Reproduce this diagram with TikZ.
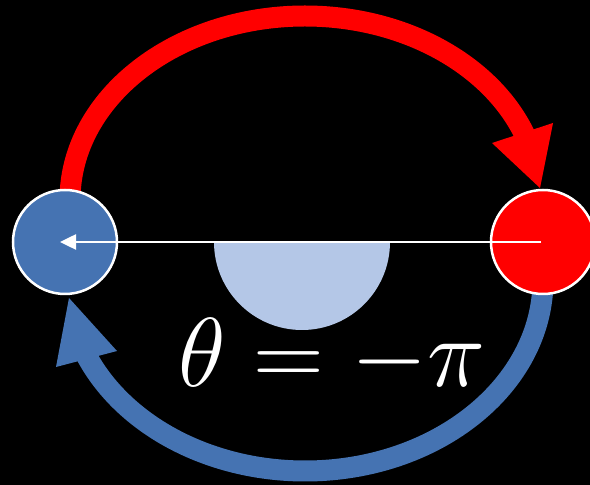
\RequirePackage{fix-cm}
\documentclass[tikz,border=0pt]{standalone}
\usetikzlibrary{arrows.meta}
\definecolor{ballblue}{RGB}{69,115,178}
\definecolor{ballred}{RGB}{255,0,0}
\definecolor{anglefill}{RGB}{180,199,231}
\begin{document}
\begin{tikzpicture}[x=1pt,y=1pt,
  ball/.style={circle, draw=white, line width=2.5pt, minimum size=104pt, inner sep=0pt},
  band/.style={line width=21pt},
  ]
\fill[black] (0,0) rectangle (590,485);
\useasboundingbox (0,0) rectangle (590,485);
% red arc (blue -> red, over the top)
\draw[band, ballred] (70,285) arc[start angle=180, end angle=20, x radius=235, y radius=184];
\fill[ballred] (492,342) -- (553,362) -- (540,297) -- cycle;
% blue arc (red -> blue, under the bottom)
\draw[band, ballblue] (543,205) arc[start angle=0, end angle=-158, x radius=238, y radius=191];
\fill[ballblue] (69,187) -- (56,118) -- (117,134) -- cycle;
% half disk for the angle
\fill[anglefill] (214,243) arc[start angle=180, end angle=360, radius=88] -- cycle;
% balls
\node[ball, fill=ballblue] (b) at (65,243) {};
\node[ball, fill=ballred] (r) at (543,243) {};
\coordinate (tip) at (60,243);
\draw[white, line width=2.5pt, -{Triangle[length=16pt,width=15pt]}] ([xshift=-2pt]r.center) -- (tip);
\node[text=white, anchor=base, inner sep=0pt, font=\fontsize{98}{98}\selectfont] (eq) at (332,98) {$\theta=-\pi$};
\end{tikzpicture}
\end{document}
